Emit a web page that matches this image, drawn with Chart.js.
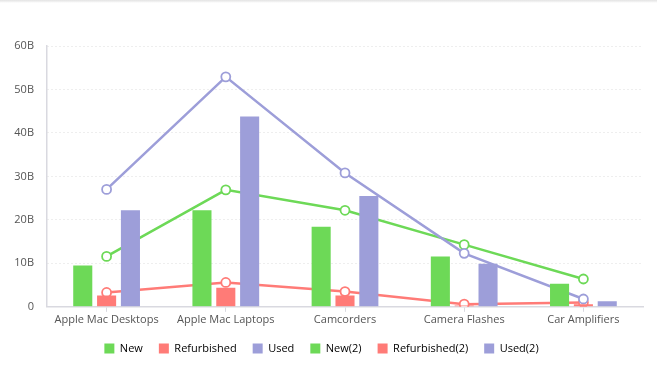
<!DOCTYPE html>
<html>
<head>
<meta charset="utf-8">
<script src="https://cdn.jsdelivr.net/npm/chart.js@4"></script>
<style>
  html, body { margin: 0; padding: 0; background: #fff; }
  .wrap { position: relative; width: 657px; height: 376px; }
  .shade { position: absolute; left: 0; top: 0; width: 657px; height: 3px;
           background: linear-gradient(#e2e2e2, rgba(255,255,255,0)); }
</style>
</head>
<body>
<div class="wrap">
  <div class="shade"></div>
  <canvas id="myChart" width="657" height="376"></canvas>
</div>
<script>
const categories = ['Apple Mac Desktops', 'Apple Mac Laptops', 'Camcorders', 'Camera Flashes', 'Car Amplifiers'];
// values in billions
const newBars = [9.5, 22.2, 18.4, 11.6, 5.3];
const refurbishedBars = [2.6, 4.4, 2.6, 0.3, 0.6];
const usedBars = [22.2, 43.8, 25.5, 9.9, 1.3];
const newLine = [11.6, 26.9, 22.2, 14.3, 6.4];
const refurbishedLine = [3.3, 5.6, 3.5, 0.6, 1.0];
const usedLine = [27.0, 52.9, 30.8, 12.3, 1.8];
const yTicks = [0, 10, 20, 30, 40, 50, 60];

const GREEN = '#6dd957';
const RED = '#ff7b77';
const PURPLE = '#9d9ed9';
const FONT = '"Open Sans", sans-serif';

function lineSet(label, data, color, order) {
    return {
        type: 'line',
        label: label,
        data: data,
        borderColor: color,
        backgroundColor: color,
        borderWidth: 2.5,
        pointRadius: 4.5,
        pointBorderWidth: 1.8,
        pointBackgroundColor: '#fff',
        pointBorderColor: color,
        tension: 0,
        order: order
    };
}

function barSet(label, data, color) {
    return {
        type: 'bar',
        label: label,
        data: data,
        backgroundColor: color,
        borderColor: color,
        borderWidth: 0,
        categoryPercentage: 0.6,
        barPercentage: 0.8,
        order: 0
    };
}

const ctx = document.getElementById('myChart').getContext('2d');
const myChart = new Chart(ctx, {
    data: {
        labels: categories,
        datasets: [
            barSet('New', newBars, GREEN),
            barSet('Refurbished', refurbishedBars, RED),
            barSet('Used', usedBars, PURPLE),
            lineSet('New(2)', newLine, GREEN, 2),
            lineSet('Refurbished(2)', refurbishedLine, RED, 3),
            lineSet('Used(2)', usedLine, PURPLE, 1)
        ]
    },
    options: {
        responsive: false,
        animation: false,
        layout: { padding: { left: 0, right: 14, top: 46, bottom: 12 } },
        scales: {
            x: {
                offset: true,
                grid: { display: true, drawOnChartArea: false, offset: false, tickLength: 5, color: '#d9d9e0' },
                border: { color: '#d9d9e0', width: 1.5 },
                ticks: { color: '#555', font: { family: FONT, size: 11 }, padding: 1, maxRotation: 0 }
            },
            y: {
                min: 0,
                max: 60,
                afterBuildTicks: scale => { scale.ticks = yTicks.map(v => ({ value: v })); },
                afterFit: scale => { scale.width = 47; },
                grid: { color: '#dcdcdc', drawTicks: false },
                border: { display: true, color: '#d9d9e0', width: 1.5, dash: [1, 3] },
                ticks: {
                    color: '#555',
                    padding: 13,
                    font: { family: FONT, size: 11 },
                    callback: v => v === 0 ? '0' : v + 'B'
                }
            }
        },
        plugins: {
            legend: {
                position: 'bottom',
                labels: {
                    boxWidth: 10,
                    boxHeight: 10,
                    padding: 16,
                    color: '#555',
                    font: { family: FONT, size: 11 },
                    generateLabels: chart => chart.data.datasets.map((ds, i) => ({
                        text: ds.label,
                        fillStyle: ds.borderColor,
                        strokeStyle: ds.borderColor,
                        lineWidth: 0,
                        hidden: false,
                        datasetIndex: i
                    }))
                }
            },
            tooltip: { enabled: false }
        }
    }
});
</script>
</body>
</html>
